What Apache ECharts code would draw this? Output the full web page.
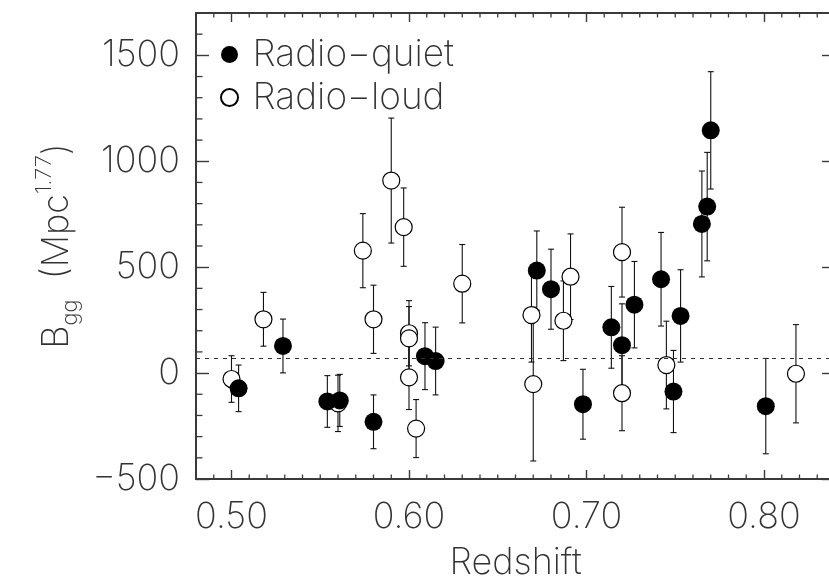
<!DOCTYPE html>
<html>
<head>
<meta charset="utf-8">
<script src="https://cdn.jsdelivr.net/npm/echarts@6/dist/echarts.min.js"></script>
<style>
html,body{margin:0;padding:0;background:#fff;}
#c{width:829px;height:583px;}
</style>
</head>
<body>
<div id="c"></div>
<script>
// Radio-quiet (filled)
const rqZ   = [0.504, 0.529, 0.554, 0.561, 0.580, 0.609, 0.615, 0.672, 0.680, 0.698, 0.714, 0.720, 0.727, 0.742, 0.749, 0.753, 0.765, 0.768, 0.770, 0.801];
const rqB   = [-72, 128, -134, -129, -230, 80, 57, 484, 396, -147, 216, 132, 323, 443, -87, 270, 704, 786, 1146, -156];
const rqErr = [110, 127, 122, 123, 127, 158, 160, 187, 189, 165, 193, 195, 204, 221, 194, 218, 250, 256, 277, 225];
// Radio-loud (open)
const rlZ   = [0.500, 0.518, 0.560, 0.574, 0.580, 0.590, 0.597, 0.600, 0.600, 0.600, 0.604, 0.630, 0.669, 0.670, 0.687, 0.691, 0.720, 0.720, 0.745, 0.818];
const rlB   = [-28, 254, -143, 578, 254, 909, 689, 188, 164, -20, -262, 422, 274, -52, 247, 455, 571, -95, 38, -3];
const rlErr = [110, 127, 133, 175, 161, 295, 185, 154, 150, 152, 137, 185, 222, 363, 188, 202, 212, 177, 207, 232];

const dashedLevel = 70;
const xMin = 0.48, xMax = 0.84;
const yMin = -500, yMax = 1700;
const xMajorTicks = [0.50, 0.60, 0.70, 0.80];
const yMajorTicks = [-500, 0, 500, 1000, 1500];
const xMinorTicks = [0.49, 0.51, 0.52, 0.53, 0.54, 0.55, 0.56, 0.57, 0.58, 0.59,
                     0.61, 0.62, 0.63, 0.64, 0.65, 0.66, 0.67, 0.68, 0.69,
                     0.71, 0.72, 0.73, 0.74, 0.75, 0.76, 0.77, 0.78, 0.79,
                     0.81, 0.82, 0.83];
const yMinorTicks = [-400, -300, -200, -100, 100, 200, 300, 400, 600, 700, 800, 900,
                     1100, 1200, 1300, 1400, 1600];
const nameQuiet = 'Radio\u2212quiet';
const nameLoud = 'Radio\u2212loud';

const FONT = "Inter, 'DejaVu Sans', sans-serif";
const FW = 200;
const FS = 36;
const TXT = '#333';
const AX = '#3a3a3a';

function zip(a, b, c) { return a.map((v, i) => c ? [v, b[i], c[i]] : [v, b[i]]); }

function renderErr(params, api) {
  const x = api.value(0), y = api.value(1), e = api.value(2);
  const t = api.coord([x, y + e]);
  const b = api.coord([x, y - e]);
  const hw = 3;
  const st = { stroke: '#111', lineWidth: 1.1 };
  return {
    type: 'group',
    children: [
      { type: 'line', shape: { x1: t[0], y1: t[1], x2: b[0], y2: b[1] }, style: st },
      { type: 'line', shape: { x1: t[0] - hw, y1: t[1], x2: t[0] + hw, y2: t[1] }, style: st },
      { type: 'line', shape: { x1: b[0] - hw, y1: b[1], x2: b[0] + hw, y2: b[1] }, style: st }
    ]
  };
}

const minorSt = { stroke: AX, lineWidth: 1.3 };
function renderXMinor(params, api) {
  const v = api.value(0);
  const b = api.coord([v, yMin]);
  const t = api.coord([v, yMax]);
  return {
    type: 'group',
    children: [
      { type: 'line', shape: { x1: b[0], y1: b[1], x2: b[0], y2: b[1] - 4.5 }, style: minorSt },
      { type: 'line', shape: { x1: t[0], y1: t[1], x2: t[0], y2: t[1] + 4.5 }, style: minorSt }
    ]
  };
}
function renderYMinor(params, api) {
  const v = api.value(1);
  const l = api.coord([xMin, v]);
  const r = api.coord([xMax, v]);
  return {
    type: 'group',
    children: [
      { type: 'line', shape: { x1: l[0], y1: l[1], x2: l[0] + 6.5, y2: l[1] }, style: minorSt },
      { type: 'line', shape: { x1: r[0], y1: r[1], x2: r[0] - 5, y2: r[1] }, style: minorSt }
    ]
  };
}

function fmtY(v) { return v < 0 ? '\u2212' + Math.abs(v) : String(v); }

const lineOn = { show: true, onZero: false, lineStyle: { color: AX, width: 2 } };
const txt = { fontFamily: FONT, fontWeight: FW, fontSize: FS, color: TXT };
const majorTickStyle = { color: AX, width: 1.4 };

function xAx(pos, extra) {
  return Object.assign({
    type: 'value', min: xMin, max: xMax, position: pos, gridIndex: 0,
    splitLine: { show: false },
    axisLine: lineOn,
    axisTick: { show: true, inside: true, length: 9, customValues: xMajorTicks, lineStyle: majorTickStyle },
    axisLabel: { show: false }
  }, extra || {});
}
function yAx(pos, extra) {
  return Object.assign({
    type: 'value', min: yMin, max: yMax, position: pos, gridIndex: 0,
    splitLine: { show: false },
    axisLine: lineOn,
    axisTick: { show: true, inside: true, length: 13, customValues: yMajorTicks, lineStyle: majorTickStyle },
    axisLabel: { show: false }
  }, extra || {});
}

const chart = echarts.init(document.getElementById('c'), null, { renderer: 'canvas' });
chart.setOption({
  animation: false,
  backgroundColor: '#fff',
  grid: { left: 196, top: 13, width: 639, height: 466, outerBoundsMode: 'none', containLabel: false },
  legend: {
    data: [nameQuiet, nameLoud],
    orient: 'vertical',
    left: 215, top: 31,
    itemWidth: 36, itemHeight: 17, itemGap: 6,
    icon: 'circle',
    textStyle: Object.assign({ lineHeight: 36 }, txt, { fontSize: 37 }),
    selectedMode: false
  },
  xAxis: [
    xAx('bottom', {
      axisLabel: Object.assign({ show: true, customValues: xMajorTicks, formatter: v => v.toFixed(2), margin: 20 }, txt),
      name: 'Redshift', nameLocation: 'middle', nameGap: 66,
      nameTextStyle: txt
    }),
    xAx('top')
  ],
  yAxis: [
    yAx('left', {
      axisLabel: Object.assign({ show: true, customValues: yMajorTicks, formatter: fmtY, margin: 16 }, txt),
      name: '{b|B}{sub|gg}{n|  (Mpc}{sup|1.77}{n|)}',
      nameLocation: 'middle', nameGap: 108,
      nameTextStyle: Object.assign({ lineHeight: 48 }, txt, {
        rich: {
          b: Object.assign({ lineHeight: 48 }, txt),
          n: Object.assign({ lineHeight: 48 }, txt),
          sub: Object.assign({}, txt, { fontSize: 22, lineHeight: 26, verticalAlign: 'bottom' }),
          sup: Object.assign({}, txt, { fontSize: 22, lineHeight: 26, verticalAlign: 'top' })
        }
      })
    }),
    yAx('right')
  ],
  series: [
    {
      type: 'custom', name: 'xMinor', renderItem: renderXMinor,
      xAxisIndex: 0, yAxisIndex: 0, z: 5, silent: true, clip: false,
      encode: { x: 0, y: 1 },
      data: xMinorTicks.map(v => [v, yMin])
    },
    {
      type: 'custom', name: 'yMinor', renderItem: renderYMinor,
      xAxisIndex: 0, yAxisIndex: 0, z: 5, silent: true, clip: false,
      encode: { x: 0, y: 1 },
      data: yMinorTicks.map(v => [xMin, v])
    },
    {
      type: 'custom', name: 'errLoud', renderItem: renderErr,
      xAxisIndex: 0, yAxisIndex: 0, z: 2, silent: true,
      encode: { x: 0, y: 1 },
      data: zip(rlZ, rlB, rlErr),
      markLine: {
        silent: true, symbol: 'none', label: { show: false },
        lineStyle: { color: '#333', type: [4, 5], width: 1.2 },
        data: [{ yAxis: dashedLevel }]
      }
    },
    {
      type: 'custom', name: 'errQuiet', renderItem: renderErr,
      xAxisIndex: 0, yAxisIndex: 0, z: 2, silent: true,
      encode: { x: 0, y: 1 },
      data: zip(rqZ, rqB, rqErr)
    },
    {
      type: 'scatter', name: nameLoud, xAxisIndex: 0, yAxisIndex: 0, z: 3,
      symbol: 'circle', symbolSize: 17,
      itemStyle: { color: '#fff', borderColor: '#000', borderWidth: 1.2, opacity: 1 },
      data: zip(rlZ, rlB)
    },
    {
      type: 'scatter', name: nameQuiet, xAxisIndex: 0, yAxisIndex: 0, z: 4,
      symbol: 'circle', symbolSize: 18,
      itemStyle: { color: '#000', borderColor: '#000', borderWidth: 0, opacity: 1 },
      data: zip(rqZ, rqB)
    }
  ]
});
</script>
</body>
</html>
